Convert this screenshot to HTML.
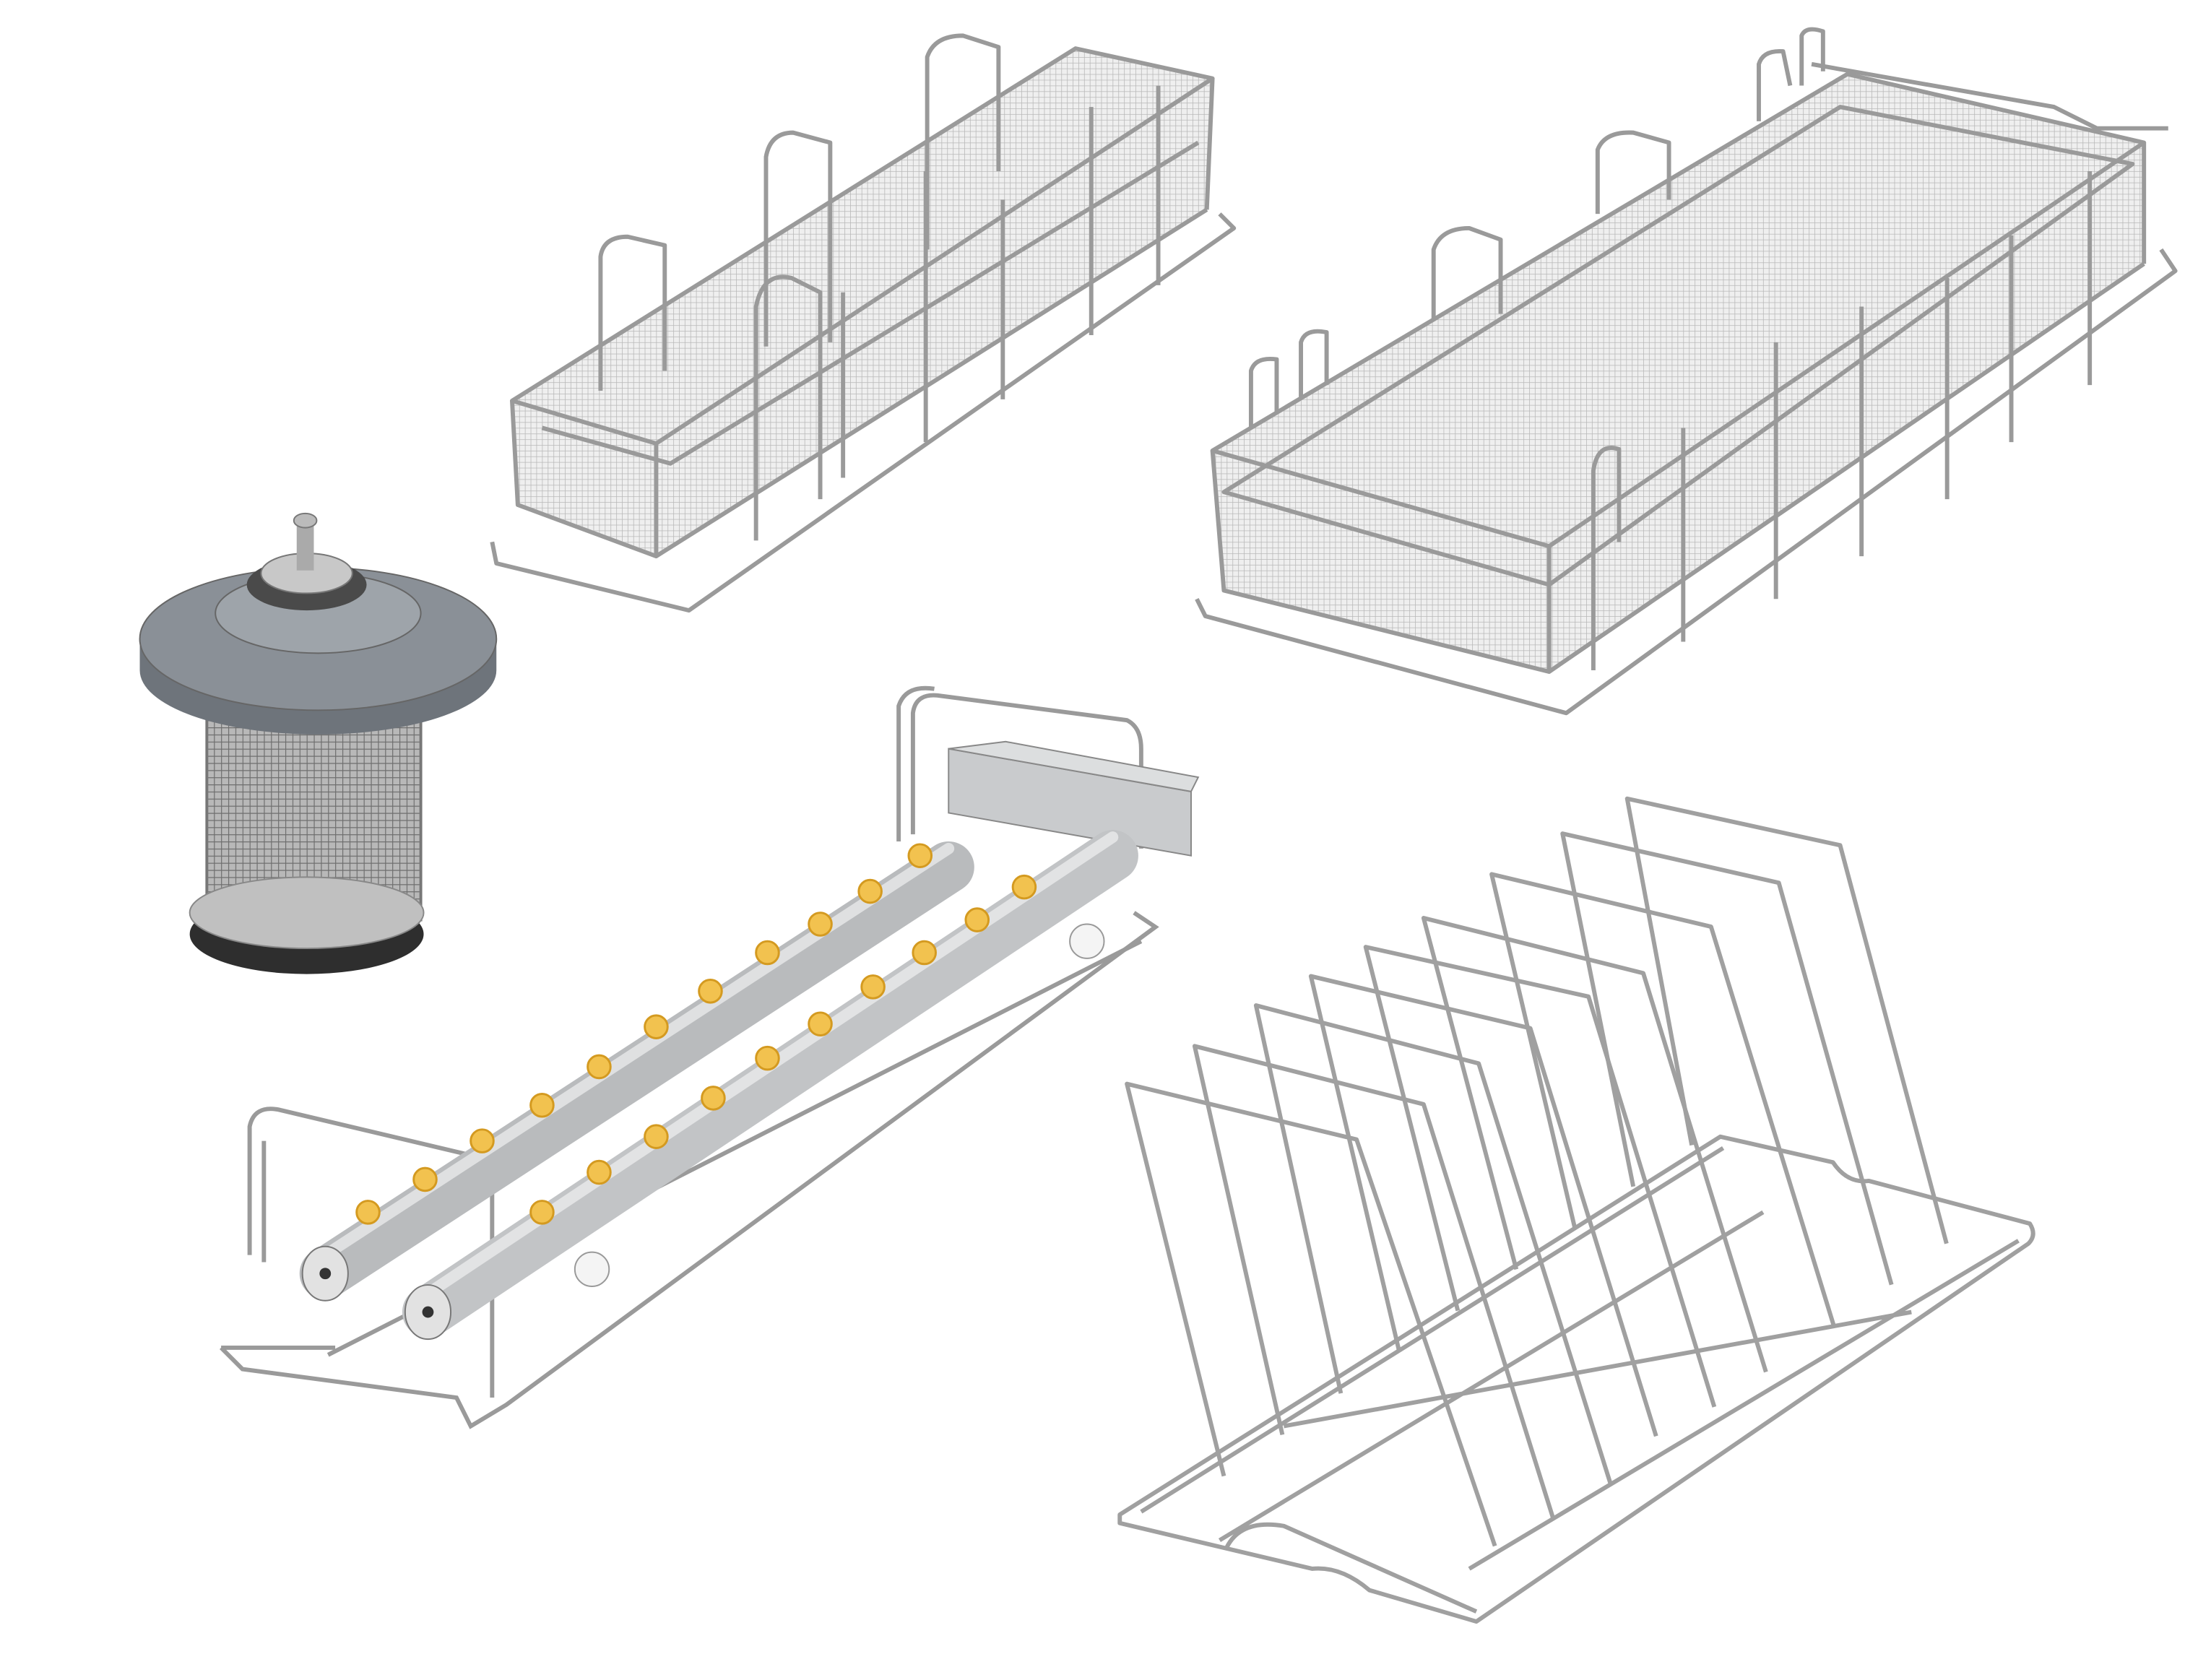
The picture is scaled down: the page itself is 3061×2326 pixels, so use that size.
<!DOCTYPE html>
<html><head><meta charset="utf-8"><style>
html,body{margin:0;padding:0;background:#fff}
svg{display:block}
</style></head><body>
<svg width="3061" height="2326" viewBox="0 0 1550 1178" preserveAspectRatio="none" xmlns="http://www.w3.org/2000/svg">
<defs>
<pattern id="mesh" width="4" height="4" patternUnits="userSpaceOnUse">
<rect width="4" height="4" fill="#efefef"/><path d="M0 0H4M0 0V4" stroke="#b8b8b8" stroke-width="0.8"/>
</pattern>
<pattern id="mesh2" width="5" height="5" patternUnits="userSpaceOnUse">
<rect width="5" height="5" fill="#b8b8b8"/><path d="M0 0H5M0 0V5" stroke="#6e6e6e" stroke-width="1.2"/>
</pattern>
</defs>
<rect width="1550" height="1178" fill="#fff"/>

<!-- Basket 1 -->
<g fill="none" stroke="#9a9a9a" stroke-width="3" stroke-linejoin="round">
<polygon points="359,281 754,34 850,55 846,147 460,390 363,354" fill="url(#mesh)" stroke="none"/>
<polygon points="359,281 754,34 850,55 460,311"/>
<path d="M460,311 V390 M359,281 L363,354 L460,390 L846,147 M850,55 L846,147"/>
<path d="M380,300 L470,325 L840,100"/>
<path d="M345,380 L348,395 L483,428 L865,160 L855,150"/>
<path d="M421,274 V180 Q423,166 440,166 L466,172 V260"/>
<path d="M537,243 V110 Q540,93 556,93 L582,100 V240"/>
<path d="M650,175 V40 Q655,25 675,25 L700,33 V120"/>
<path d="M530,379 V215 Q535,190 555,195 L575,205 V350"/>
<path d="M591,335 V205"/><path d="M649,310 V120"/><path d="M703,280 V140"/><path d="M765,235 V75"/><path d="M812,200 V60"/>
</g>

<!-- Basket 2 -->
<g fill="none" stroke="#9a9a9a" stroke-width="3" stroke-linejoin="round">
<polygon points="850,316 1295,52 1503,100 1503,185 1086,471 858,414" fill="url(#mesh)" stroke="none"/>
<polygon points="850,316 1295,52 1503,100 1086,383"/>
<polygon points="858,345 1290,75 1495,115 1086,410"/>
<path d="M1086,383 V471 M850,316 L858,414 L1086,471 L1503,185 M1503,100 V185"/>
<path d="M839,420 L845,432 L1098,500 L1525,190 L1515,175"/>
<path d="M877,300 V260 Q880,250 895,252 V290 M912,280 V240 Q915,230 930,233 V270"/>
<path d="M1005,225 V175 Q1010,160 1030,160 L1052,168 V220"/>
<path d="M1120,150 V105 Q1125,92 1145,93 L1170,100 V140"/>
<path d="M1233,85 V45 Q1236,35 1250,36 L1255,60 M1263,60 V25 Q1266,18 1278,22 V50"/>
<path d="M1270,45 L1440,75 Q1450,80 1470,90 L1520,90"/>
<path d="M1117,470 V330 Q1120,310 1135,315 V380"/>
<path d="M1180,450 V300"/><path d="M1245,420 V240"/><path d="M1305,390 V215"/><path d="M1365,350 V195"/><path d="M1410,310 V165"/><path d="M1465,270 V120"/>
</g>

<!-- Filter -->
<g>
<rect x="145" y="480" width="150" height="165" fill="url(#mesh2)" stroke="#777" stroke-width="2"/>
<ellipse cx="215" cy="655" rx="82" ry="28" fill="#2e2e2e"/>
<ellipse cx="215" cy="640" rx="82" ry="25" fill="#c0c0c0" stroke="#888"/>
<path d="M98,448 V470 A125,45 0 0 0 348,470 V448 Z" fill="#6e747b"/>
<ellipse cx="223" cy="448" rx="125" ry="50" fill="#8a9097" stroke="#666"/>
<ellipse cx="223" cy="430" rx="72" ry="28" fill="#9ea4aa" stroke="#666"/>
<ellipse cx="215" cy="410" rx="42" ry="18" fill="#4a4a4a"/>
<ellipse cx="215" cy="402" rx="32" ry="14" fill="#c8c8c8" stroke="#777"/>
<rect x="208" y="365" width="12" height="35" fill="#aaa"/>
<ellipse cx="214" cy="365" rx="8" ry="5" fill="#bbb" stroke="#777"/>
</g>

<!-- Spray rack -->
<g>
<g fill="none" stroke="#9a9a9a" stroke-width="3">
<path d="M640,585 V500 Q642,485 660,488 L790,505 Q800,510 800,525 V595"/>
<path d="M630,590 V495 Q635,480 655,483"/>
<path d="M155,945 L235,945 M155,945 L170,960 L320,980 L330,1000 L355,985 L810,650 L795,640"/>
<path d="M175,880 V790 Q178,775 195,778 L330,810 Q345,815 345,830 V980"/>
<path d="M185,885 V800"/>
<path d="M230,950 L800,660"/>
</g>
<polygon points="665,525 835,555 835,600 665,570" fill="#c9cbcd" stroke="#888"/>
<polygon points="665,525 705,520 840,545 835,555" fill="#dcdedf" stroke="#888"/>
<line x1="228" y1="893" x2="665" y2="608" stroke="#b9bbbd" stroke-width="36" stroke-linecap="round"/>
<line x1="228" y1="880" x2="665" y2="595" stroke="#dfe0e1" stroke-width="8" stroke-linecap="round"/>
<line x1="300" y1="920" x2="780" y2="600" stroke="#c2c4c6" stroke-width="36" stroke-linecap="round"/>
<line x1="300" y1="907" x2="780" y2="587" stroke="#e2e3e4" stroke-width="8" stroke-linecap="round"/>
<ellipse cx="228" cy="893" rx="16" ry="19" fill="#e2e2e2" stroke="#777"/>
<ellipse cx="300" cy="920" rx="16" ry="19" fill="#e2e2e2" stroke="#777"/>
<circle cx="228" cy="893" r="4" fill="#333"/><circle cx="300" cy="920" r="4" fill="#333"/>
<g fill="#f2c24f" stroke="#d49a20" stroke-width="1.5">
<circle cx="258" cy="850" r="8"/><circle cx="298" cy="827" r="8"/><circle cx="338" cy="800" r="8"/><circle cx="380" cy="775" r="8"/><circle cx="420" cy="748" r="8"/><circle cx="460" cy="720" r="8"/><circle cx="498" cy="695" r="8"/><circle cx="538" cy="668" r="8"/><circle cx="575" cy="648" r="8"/><circle cx="610" cy="625" r="8"/><circle cx="645" cy="600" r="8"/>
<circle cx="380" cy="850" r="8"/><circle cx="420" cy="822" r="8"/><circle cx="460" cy="797" r="8"/><circle cx="500" cy="770" r="8"/><circle cx="538" cy="742" r="8"/><circle cx="575" cy="718" r="8"/><circle cx="612" cy="692" r="8"/><circle cx="648" cy="668" r="8"/><circle cx="685" cy="645" r="8"/><circle cx="718" cy="622" r="8"/>
</g>
<circle cx="415" cy="890" r="12" fill="#f4f4f4" stroke="#999"/>
<circle cx="762" cy="660" r="12" fill="#f4f4f4" stroke="#999"/>
</g>

<!-- Plate rack -->
<g fill="none" stroke="#a0a0a0" stroke-width="3" stroke-linejoin="round">
<path d="M785,1062 L1206,797 L1285,815 Q1295,830 1310,828 L1423,858 Q1428,866 1422,872 L1035,1137 L960,1115 Q940,1098 920,1100 L785,1068 Z"/>
<path d="M800,1060 L1208,805 M855,1080 L1236,850 M900,1000 L1340,920 M860,1085 Q870,1065 900,1070 L1035,1130 M1030,1100 L1415,870"/>
<path d="M858,1035 L790,760 L951,799 L1048,1084"/>
<path d="M899,1006 L837.5,733.5 L998,774.3 L1088.6,1064"/>
<path d="M940,977 L880.5,705 L1036.6,745.7 L1129.4,1041.6"/>
<path d="M981,948 L919,684.5 L1072.8,721 L1161,1007"/>
<path d="M1022,919 L957.4,664 L1113.6,698.8 L1201.8,986.5"/>
<path d="M1063,890 L998,643.7 L1152,682.4 L1238,962"/>
<path d="M1104,861 L1045.7,613 L1199.5,649.8 L1285.5,929.4"/>
<path d="M1145,832 L1095.4,584.5 L1247,619 L1326,900.8"/>
<path d="M1186,803 L1140.7,560 L1290,592.7 L1364.6,872"/>
</g>
</svg>
</body></html>
